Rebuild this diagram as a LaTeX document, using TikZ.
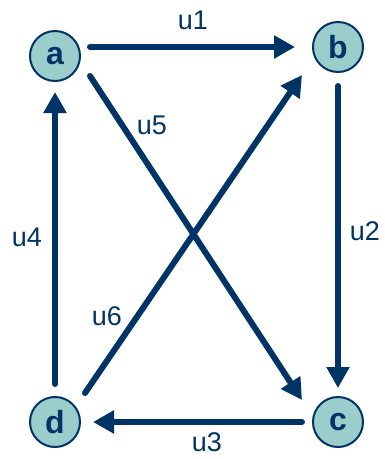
\documentclass[tikz,border=0pt]{standalone}
\usepackage{fontspec}
\setmainfont{Liberation Sans}
\usetikzlibrary{arrows.meta}
\definecolor{navy}{HTML}{003366}
\definecolor{teal}{HTML}{9CCDCD}
\begin{document}
\begin{tikzpicture}[x=1pt,y=-1pt,
  vertex/.style={circle, draw=navy, line width=2pt, fill=teal, minimum size=50pt,
    inner sep=0pt, text=navy, font=\fontsize{32}{32}\selectfont\bfseries},
  edge/.style={draw=navy, line width=6pt, line cap=round,
    -{Triangle[length=21pt,width=22pt]}},
  elabel/.style={text=navy, inner sep=0pt, font=\fontsize{27}{27}\selectfont}]
  \useasboundingbox (0,0) rectangle (385,459);
  % vertices
  \node[vertex] (a) at (55,56) {a};
  \node[vertex] (b) at (338,47) {b};
  \node[vertex] (c) at (338,422) {c};
  \node[vertex] (d) at (55,422) {d};
  % arcs
  \draw[edge] ([shift={(35,-9)}]a.center) -- ([shift={(-43,0)}]b.center);
  \draw[edge] ([shift={(0,39)}]b.center) -- ([shift={(0,-34)}]c.center);
  \draw[edge] ([shift={(-36,0)}]c.center) -- ([shift={(38,0)}]d.center);
  \draw[edge] ([shift={(0,-38)}]d.center) -- ([shift={(0,36)}]a.center);
  \draw[edge] ([shift={(35,20)}]a.center) -- ([shift={(-36,-22)}]c.center);
  \draw[edge] ([shift={(30,-29)}]d.center) -- ([shift={(-36,28)}]b.center);
  % arc labels
  \node[elabel] (l1) at (193,20) {u1};
  \node[elabel] (l2) at (365,231) {u2};
  \node[elabel] (l3) at (207,442) {u3};
  \node[elabel] (l4) at (27,237) {u4};
  \node[elabel] (l5) at (152,125) {u5};
  \node[elabel] (l6) at (107,316) {u6};
\end{tikzpicture}
\end{document}
